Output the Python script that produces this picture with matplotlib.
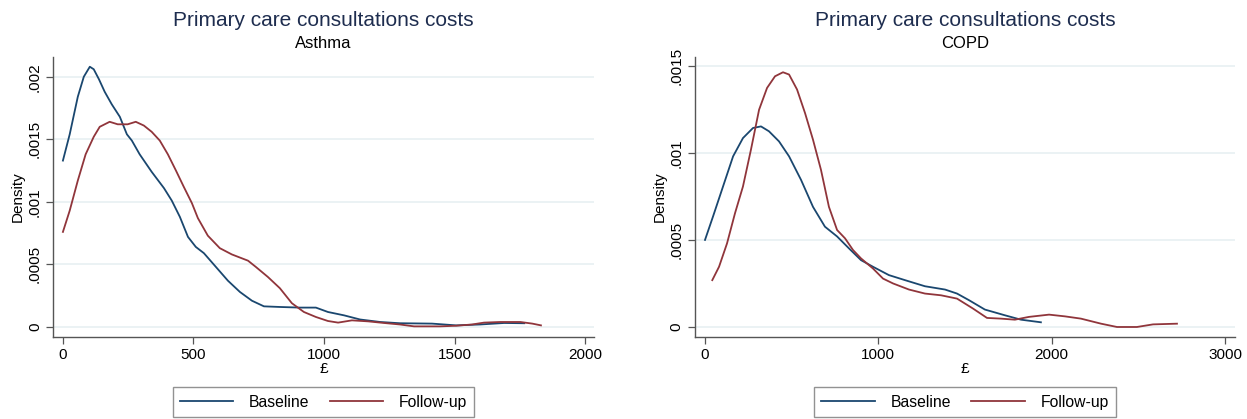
import matplotlib
matplotlib.use("Agg")
import matplotlib.pyplot as plt

plt.rcParams['font.family'] = ['Liberation Sans', 'DejaVu Sans']

# --- Asthma (left panel) ---
asthma_base_x = [0, 26, 57, 80, 103, 118, 138, 160, 187, 218, 245, 264, 294, 340, 387, 417,
                 448, 479, 509, 540, 586, 632, 678, 724, 770, 831, 908, 969, 1015, 1077, 1138,
                 1215, 1291, 1414, 1506, 1598, 1690, 1767]
asthma_base_y = [0.00133, 0.00154, 0.00184, 0.00200, 0.00208, 0.00206, 0.00198, 0.00188, 0.00178,
                 0.00168, 0.00154, 0.00149, 0.00138, 0.00124, 0.00111, 0.00101, 0.00088, 0.00072,
                 0.00064, 0.00059, 0.00048, 0.00037, 0.00028, 0.00021, 0.000165, 0.00016, 0.000155,
                 0.000155, 0.00012, 0.000093, 0.00006, 0.00004, 0.00003, 0.000027, 0.000013,
                 0.00002, 0.000032, 0.00003]
asthma_fu_x = [0, 26, 57, 87, 118, 141, 179, 210, 248, 279, 310, 340, 371, 402, 433, 463, 494,
               517, 555, 601, 647, 709, 739, 785, 831, 877, 923, 969, 1015, 1054, 1107, 1169,
               1230, 1291, 1345, 1445, 1506, 1567, 1613, 1675, 1752, 1798, 1831]
asthma_fu_y = [0.00076, 0.00093, 0.00117, 0.00138, 0.00152, 0.00160, 0.00164, 0.00162, 0.00162,
               0.00164, 0.00161, 0.00156, 0.00149, 0.00138, 0.00125, 0.00112, 0.00099, 0.00087,
               0.00073, 0.00063, 0.00058, 0.00053, 0.00048, 0.00040, 0.00031, 0.00019, 0.00012,
               0.00008, 0.000048, 0.000035, 0.000053, 0.000045, 0.000032, 0.00002, 0.000005,
               0.000005, 0.00001, 0.00002, 0.000035, 0.00004, 0.00004, 0.000027, 0.000013]

# --- COPD (right panel) ---
copd_base_x = [0, 46, 104, 162, 219, 277, 323, 369, 427, 485, 554, 623, 692, 762, 831, 900, 969,
               1061, 1154, 1269, 1385, 1454, 1523, 1615, 1731, 1823, 1938]
copd_base_y = [0.0005, 0.000634, 0.000807, 0.00098, 0.001085, 0.001143, 0.001152, 0.001124,
               0.001066, 0.00098, 0.000845, 0.00069, 0.000576, 0.00052, 0.000451, 0.000384,
               0.000346, 0.000298, 0.000269, 0.000234, 0.000215, 0.000192, 0.000154, 0.0001,
               0.000067, 0.000042, 0.000027]
copd_fu_x = [42, 81, 127, 173, 219, 265, 312, 358, 404, 450, 485, 531, 577, 623, 669, 715, 762,
             808, 854, 900, 969, 1027, 1085, 1177, 1269, 1362, 1454, 1546, 1627, 1708, 1788,
             1869, 1985, 2077, 2169, 2285, 2377, 2492, 2585, 2723]
copd_fu_y = [0.000269, 0.000346, 0.00048, 0.000653, 0.000807, 0.001018, 0.001248, 0.001373,
             0.00144, 0.001463, 0.00145, 0.001364, 0.001229, 0.001076, 0.000903, 0.00069,
             0.000557, 0.000509, 0.000442, 0.000394, 0.000336, 0.000278, 0.00025, 0.000215,
             0.000192, 0.000182, 0.000163, 0.000106, 0.000052, 0.000048, 0.000042, 0.000058,
             0.000071, 0.000061, 0.000048, 0.000019, 0.0, 0.0, 0.000015, 0.000019]

asthma_yticks = [0, 0.0005, 0.001, 0.0015, 0.002]
asthma_ylabels = ['0', '.0005', '.001', '.0015', '.002']
asthma_xticks = [0, 500, 1000, 1500, 2000]
copd_yticks = [0, 0.0005, 0.001, 0.0015]
copd_ylabels = ['0', '.0005', '.001', '.0015']
copd_xticks = [0, 1000, 2000, 3000]

BLUE = '#1a476f'
RED = '#90353b'
TITLE_COL = '#1e2d4f'
GRID = '#e8f0f2'

fig = plt.figure(figsize=(12.47, 4.19), dpi=100)
fig.patch.set_facecolor('white')

panels = [
    dict(rect=[0.0425, 0.1957, 0.4338, 0.668], sub='Asthma',
         bx=asthma_base_x, by=asthma_base_y, fx=asthma_fu_x, fy=asthma_fu_y,
         xticks=asthma_xticks, yticks=asthma_yticks, ylabels=asthma_ylabels,
         xlim=(-38, 2034), ylim=(-0.00008, 0.002157)),
    dict(rect=[0.5573, 0.1957, 0.4331, 0.668], sub='COPD',
         bx=copd_base_x, by=copd_base_y, fx=copd_fu_x, fy=copd_fu_y,
         xticks=copd_xticks, yticks=copd_yticks, ylabels=copd_ylabels,
         xlim=(-58, 3058), ylim=(-0.0000575, 0.00155)),
]

for p in panels:
    ax = fig.add_axes(p['rect'])
    l1, = ax.plot(p['bx'], p['by'], color=BLUE, lw=1.3, label='Baseline')
    l2, = ax.plot(p['fx'], p['fy'], color=RED, lw=1.3, label='Follow-up')
    ax.set_xlim(*p['xlim'])
    ax.set_ylim(*p['ylim'])
    ax.set_xticks(p['xticks'])
    ax.set_xticklabels([str(v) for v in p['xticks']])
    ax.set_yticks(p['yticks'])
    ax.set_yticklabels(p['ylabels'], rotation=90, va='center')
    for y in p['yticks']:
        ax.axhline(y, color=GRID, lw=1.2, zorder=0)
    for s in ['top', 'right']:
        ax.spines[s].set_visible(False)
    for s in ['left', 'bottom']:
        ax.spines[s].set_color('#555555')
        ax.spines[s].set_linewidth(1.0)
    ax.tick_params(direction='out', length=5, width=0.9, color='#555555',
                   labelsize=11, pad=3)
    ax.set_ylabel('Density', fontsize=11, labelpad=2)
    ax.set_xlabel('£', fontsize=11, labelpad=0)

    pos = ax.get_position()
    cx = pos.x0 + pos.width / 2
    fig.text(cx, 1 - 20 / 419, 'Primary care consultations costs', ha='center', va='center',
             fontsize=15, color=TITLE_COL)
    fig.text(cx, 1 - 44 / 419, p['sub'], ha='center', va='center', fontsize=12, color='black')

    leg = ax.legend(handles=[l1, l2], loc='center', bbox_to_anchor=(cx, 1 - 402 / 419),
                    bbox_transform=fig.transFigure, ncol=2, fontsize=11.3, frameon=True,
                    fancybox=False, handlelength=3.4, columnspacing=1.3, handletextpad=1.0,
                    borderpad=0.45, borderaxespad=0)
    leg.get_frame().set_edgecolor('#777777')
    leg.get_frame().set_linewidth(1.0)

fig.savefig('out.png', dpi=100, facecolor='white')
